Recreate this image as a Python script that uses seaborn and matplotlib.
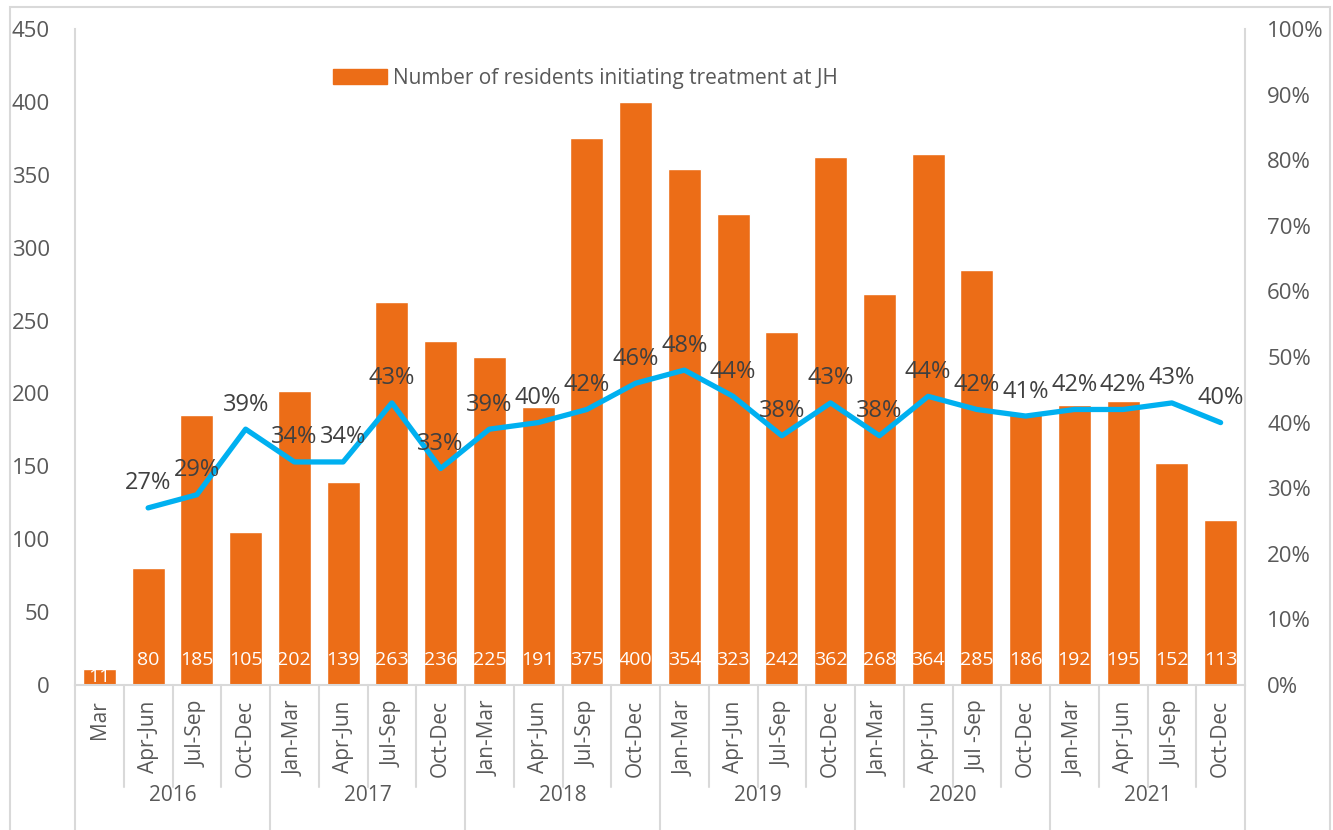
import numpy as np
import pandas as pd
import matplotlib
matplotlib.use("Agg")
import matplotlib.pyplot as plt
import seaborn as sns
from matplotlib.patches import Patch, Rectangle
from matplotlib.lines import Line2D

# data
quarters = ["Mar", "Apr-Jun", "Jul-Sep", "Oct-Dec",
            "Jan-Mar", "Apr-Jun", "Jul-Sep", "Oct-Dec",
            "Jan-Mar", "Apr-Jun", "Jul-Sep", "Oct-Dec",
            "Jan-Mar", "Apr-Jun", "Jul-Sep", "Oct-Dec",
            "Jan-Mar", "Apr-Jun", "Jul -Sep", "Oct-Dec",
            "Jan-Mar", "Apr-Jun", "Jul-Sep", "Oct-Dec"]
years = ["2016", "2017", "2018", "2019", "2020", "2021"]
year_sizes = [4, 4, 4, 4, 4, 4]
residents = [11, 80, 185, 105, 202, 139, 263, 236, 225, 191, 375, 400,
             354, 323, 242, 362, 268, 364, 285, 186, 192, 195, 152, 113]
# share of residents (no value for Mar 2016)
share = [None, 27, 29, 39, 34, 34, 43, 33, 39, 40, 42, 46,
         48, 44, 38, 43, 38, 44, 42, 41, 42, 42, 43, 40]

BAR = "#EC6D17"
LINE = "#00B0F0"
GRID = "#D9D9D9"
TXT = "#595959"

sns.set_style("white")
plt.rcParams["font.family"] = ["Open Sans", "DejaVu Sans"]

df = pd.DataFrame({"pos": np.arange(len(residents)), "residents": residents})
ln = pd.DataFrame({"pos": np.arange(len(share)), "share": share}).dropna()

fig = plt.figure(figsize=(13.33, 8.3), dpi=100)
ax = fig.add_axes([75 / 1333, 145 / 830, 1170 / 1333, 656 / 830])

sns.barplot(data=df, x="pos", y="residents", color=BAR, saturation=1,
            width=0.68, ax=ax)
ax.set_xlim(-0.5, len(residents) - 0.5)
ax.set_ylim(0, 450)
ax.set_yticks(np.arange(0, 451, 50))
ax.set_xlabel("")
ax.set_ylabel("")
ax.set_xticks(np.arange(len(quarters)))
ax.set_xticklabels(quarters, rotation=90, fontsize=15, color=TXT)
ax.tick_params(axis="x", length=0, pad=11)
ax.tick_params(axis="y", length=0, pad=18, labelsize=16, labelcolor=TXT)
for lab in ax.get_yticklabels():
    lab.set_horizontalalignment("right")

for s in ["top", "right"]:
    ax.spines[s].set_visible(False)
for s in ["left", "bottom"]:
    ax.spines[s].set_color(GRID)
    ax.spines[s].set_linewidth(1.5)

# bar values, white, near the base
for i, v in enumerate(residents):
    ax.text(i, min(17, v / 2), str(v), ha="center", va="center",
            color="white", fontsize=14)

ax2 = ax.twinx()
sns.lineplot(data=ln, x="pos", y="share", color=LINE, linewidth=3.8, ax=ax2)
ax2.set_ylim(0, 100)
ax2.set_yticks(np.arange(0, 101, 10))
ax2.set_yticklabels([f"{t}%" for t in range(0, 101, 10)])
ax2.set_ylabel("")
ax2.tick_params(axis="y", length=0, pad=16, labelsize=16, labelcolor=TXT)
for s in ["top", "left", "bottom"]:
    ax2.spines[s].set_visible(False)
ax2.spines["right"].set_color(GRID)
ax2.spines["right"].set_linewidth(1.5)

for x, y in zip(ln["pos"], ln["share"]):
    ax2.annotate(f"{int(y)}%", (x, y), xytext=(0, 9), textcoords="offset points",
                 ha="center", va="bottom", fontsize=17, color="#404040")

# category and year separators below the axis
tr = ax.get_xaxis_transform()
edges = np.cumsum([0] + year_sizes) - 0.5
for k in range(len(quarters) + 1):
    xk = k - 0.5
    low = -0.221 if xk in edges else -0.155
    ax.add_line(Line2D([xk, xk], [0, low], transform=tr, color=GRID,
                       linewidth=1.5, clip_on=False))
for yr, a, b in zip(years, edges[:-1], edges[1:]):
    ax.text((a + b) / 2, -0.168, yr, transform=tr, ha="center", va="center",
            fontsize=15, color=TXT)

ax2.legend(handles=[Patch(color=BAR, label="Number of residents initiating treatment at JH")],
           loc="center left", bbox_to_anchor=(0.2205, 0.925), frameon=False,
           borderpad=0, borderaxespad=0, handlelength=2.6, handleheight=0.7,
           handletextpad=0.3, fontsize=15, labelcolor=TXT)

# outer chart border
fig.add_artist(Rectangle((10 / 1333, -0.01), 1320 / 1333, 1 - 7 / 830 + 0.01,
                         transform=fig.transFigure, fill=False,
                         edgecolor=GRID, linewidth=1.5))

fig.savefig("out.png", dpi=100)
